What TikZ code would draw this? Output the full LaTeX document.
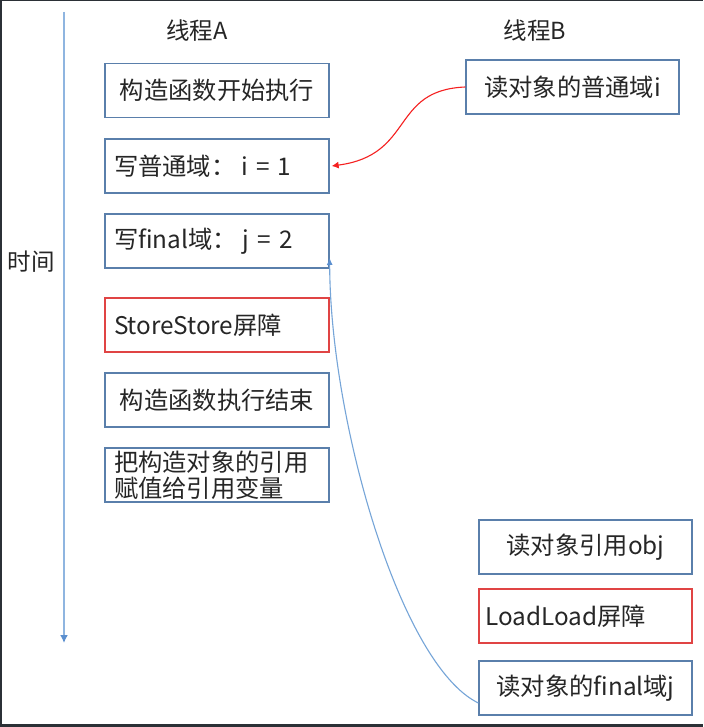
\documentclass[tikz,border=0pt]{standalone}
\usepackage{fontspec}
\setmainfont{Noto Sans CJK SC}
\usetikzlibrary{arrows.meta}
\definecolor{boxblue}{HTML}{5A7FAB}
\definecolor{boxred}{HTML}{E04444}
\definecolor{axisblue}{HTML}{8FB5E0}
\definecolor{tipblue}{HTML}{5B8FCF}
\definecolor{curveblue}{HTML}{76A5D8}
\definecolor{curvered}{HTML}{F52020}
\definecolor{frame}{HTML}{2B3036}
\tikzset{
  every node/.style={font=\fontsize{24.3}{26}\selectfont, text=black!85},
  box/.style={draw=boxblue, line width=1.3pt, minimum width=224pt, minimum height=54pt, inner sep=0pt, text width=206pt},
  lbox/.style={box, align=left},
  cbox/.style={box, align=center},
  rbox/.style={box, draw=boxred, align=left},
  hdr/.style={font=\fontsize{23.5}{26}\selectfont},
}
\begin{document}
\begin{tikzpicture}[x=1pt,y=-1pt]
\useasboundingbox (0,0) rectangle (703,727);
\fill[white] (0,0) rectangle (703,727);
% frame edges
\fill[frame] (0,0) rectangle (703,1.2);
\fill[frame] (0,0) rectangle (2.2,727);
\fill[frame] (0,724) rectangle (703,727);
% time axis
\coordinate (t0) at (64,12);
\coordinate (t1) at (64,643);
\draw[axisblue, line width=1.8pt, -{Latex[length=8pt,width=8pt,color=tipblue]}] (t0) -- (t1);
\node[hdr] (time) at (31,262) {时间};
% headers
\node[hdr] (hA) at (197,31) {线程A};
\node[hdr] (hB) at (535,31) {线程B};
% thread A
\node[cbox] (a1) at (217,90.5) {构造函数开始执行};
\node[lbox] (a2) at (217,166) {写普通域：\hspace{6pt}i = 1};
\node[lbox] (a3) at (217,241) {写final域：\hspace{6pt}j = 2};
\node[rbox] (a4) at (217,325) {StoreStore屏障};
\node[cbox] (a5) at (217,400) {构造函数执行结束};
\node[lbox] (a6) at (217,475) {把构造对象的引用\\赋值给引用变量};
% thread B
\node[box, text width=200pt, align=center, minimum width=213pt] (b1) at (572.5,87) {读对象的普通域i};
\node[box, text width=200pt, align=center, minimum width=213pt] (b2) at (585.5,547) {读对象引用obj};
\node[box, draw=boxred, text width=200pt, align=left, minimum width=213pt] (b3) at (585.5,616) {LoadLoad屏障};
\node[box, text width=200pt, align=center, minimum width=213pt] (b4) at (585.5,688) {读对象的final域j};
% connectors
\draw[curvered, line width=1.1pt, -{Latex[length=7pt,width=7pt]}]
  (b1.west) .. controls (390,90) and (415,155) .. ([xshift=2pt]a2.east);
\draw[curveblue, line width=1.1pt, -{Latex[length=7pt,width=6pt,color=tipblue]}]
  ([yshift=-15pt]b4.west) .. controls (400,665) and (330,420) .. ([yshift=-17pt]a3.east);
\end{tikzpicture}
\end{document}
